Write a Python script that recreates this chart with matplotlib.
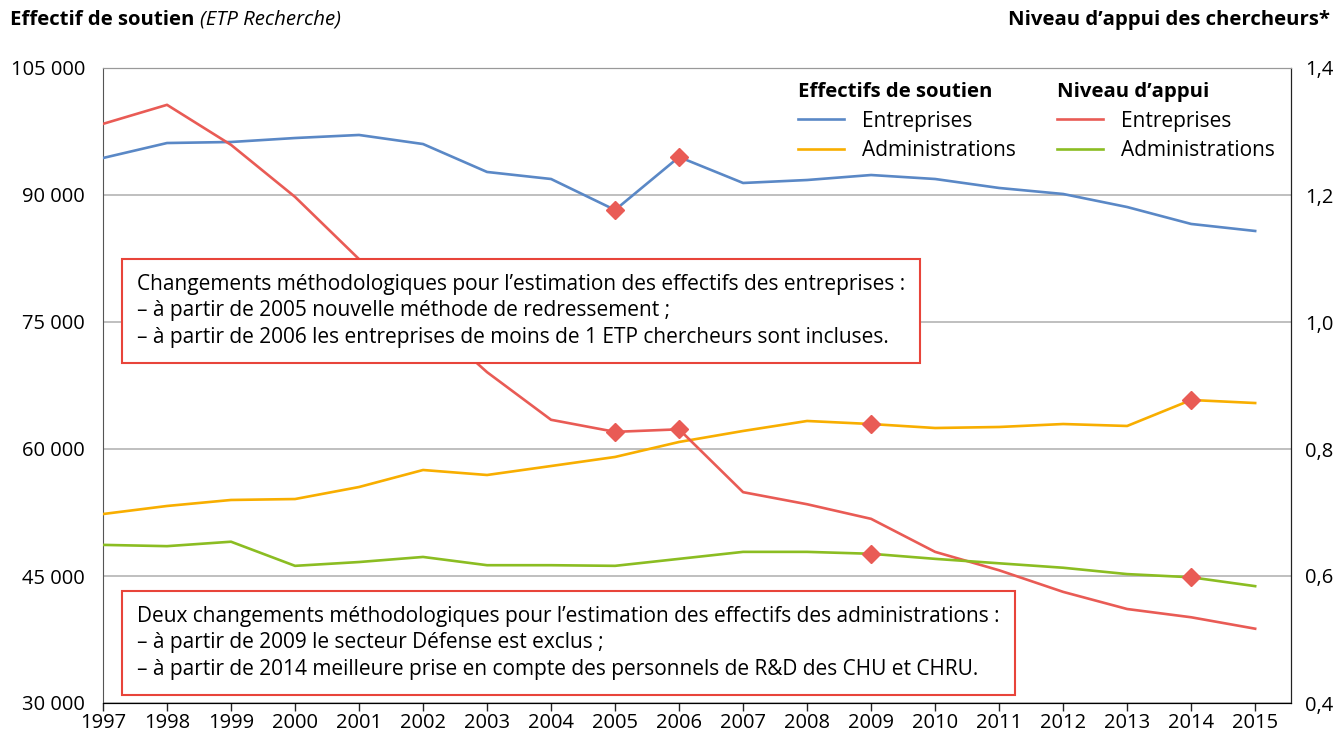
import matplotlib
matplotlib.use('Agg')
import matplotlib.pyplot as plt
from matplotlib.ticker import FuncFormatter
import numpy as np

plt.rcParams['font.family'] = ['Open Sans', 'DejaVu Sans']

years = list(range(1997, 2016))

# effectifs de soutien (axe gauche)
eff_entreprises = [94370, 96140, 96260, 96730, 97090, 96020, 92720, 91890, 88230, 94490,
                   91420, 91770, 92360, 91890, 90830, 90120, 88580, 86580, 85750]
eff_administrations = [52320, 53270, 53980, 54090, 55510, 57520, 56930, 57990, 59060, 60830,
                       62130, 63310, 62950, 62480, 62600, 62950, 62720, 65790, 65430]

# niveau d'appui (axe droit)
appui_entreprises = [1.312, 1.342, 1.279, 1.197, 1.099, 1.011, 0.921, 0.846, 0.827, 0.831,
                     0.732, 0.713, 0.690, 0.638, 0.609, 0.575, 0.548, 0.535, 0.517]
appui_administrations = [0.649, 0.647, 0.654, 0.616, 0.622, 0.630, 0.617, 0.617, 0.616, 0.627,
                         0.638, 0.638, 0.635, 0.627, 0.620, 0.613, 0.603, 0.598, 0.584]

# ruptures de série
ruptures_entreprises = [2005, 2006]
ruptures_administrations = [2009, 2014]

note_entreprises = ("Changements méthodologiques pour l\u2019estimation des effectifs des entreprises :\n"
                    "\u2013 à partir de 2005 nouvelle méthode de redressement ;\n"
                    "\u2013 à partir de 2006 les entreprises de moins de 1 ETP chercheurs sont incluses.")
note_administrations = ("Deux changements méthodologiques pour l\u2019estimation des effectifs des administrations :\n"
                        "\u2013 à partir de 2009 le secteur Défense est exclus ;\n"
                        "\u2013 à partir de 2014 meilleure prise en compte des personnels de R&D des CHU et CHRU.")

c_blue = '#5a88c6'
c_orange = '#f8ae00'
c_red = '#e95b55'
c_green = '#8bbd22'
c_box = '#e8443a'

W, H = 1339, 738
fig = plt.figure(figsize=(W / 100, H / 100), dpi=100)
ax = fig.add_axes([103 / W, 1 - 703 / H, (1291 - 103) / W, (703 - 68) / H])
ax2 = ax.twinx()

ax.set_xlim(1997, 2015.56)
ax.set_ylim(30000, 105000)
ax2.set_ylim(0.4, 1.4)

ax.set_yticks(np.arange(30000, 105001, 15000))
ax2.set_yticks(np.arange(0.4, 1.41, 0.2))
ax.set_xticks(years)
ax.yaxis.set_major_formatter(FuncFormatter(lambda v, p: f"{v:,.0f}".replace(',', ' ')))
ax2.yaxis.set_major_formatter(FuncFormatter(lambda v, p: f"{v:.1f}".replace('.', ',')))

fs = 14.5
ax.grid(axis='y', color='#b4b4b4', lw=1.2)
ax.set_axisbelow(True)
ax.tick_params(axis='y', length=0, labelsize=fs, pad=13)
ax2.tick_params(axis='y', length=0, labelsize=fs, pad=10)
ax.tick_params(axis='x', length=6, width=1, labelsize=fs, pad=1, color='#222222')
ax.spines['left'].set_color('#555555')
ax.spines['top'].set_color('#999999')
ax2.spines['top'].set_color('#999999')
ax2.spines['left'].set_visible(False)
ax.spines['bottom'].set_color('#222222')
ax2.spines['right'].set_color('#222222')

lw = 1.9
l1, = ax.plot(years, eff_entreprises, color=c_blue, lw=lw, zorder=3)
l2, = ax.plot(years, eff_administrations, color=c_orange, lw=lw, zorder=3)
l3, = ax2.plot(years, appui_entreprises, color=c_red, lw=lw, zorder=3)
l4, = ax2.plot(years, appui_administrations, color=c_green, lw=lw, zorder=3)

mk = dict(marker='D', ms=9.5, color=c_red, ls='none', zorder=5)
idx_e = [years.index(y) for y in ruptures_entreprises]
idx_a = [years.index(y) for y in ruptures_administrations]
ax.plot(ruptures_entreprises, [eff_entreprises[i] for i in idx_e], **mk)
ax2.plot(ruptures_entreprises, [appui_entreprises[i] for i in idx_e], **mk)
ax.plot(ruptures_administrations, [eff_administrations[i] for i in idx_a], **mk)
ax2.plot(ruptures_administrations, [appui_administrations[i] for i in idx_a], **mk)

# encadrés
box = dict(boxstyle='square,pad=0.72', fc='white', ec=c_box, lw=1.5)
fig.text(137 / W, 1 - 274 / H, note_entreprises, fontsize=15, va='top', ha='left',
         linespacing=1.33, bbox=box, zorder=10)
fig.text(137 / W, 1 - 606 / H, note_administrations, fontsize=15, va='top', ha='left',
         linespacing=1.33, bbox=box, zorder=10)

# légendes
leg_kw = dict(frameon=False, fontsize=15, handlelength=2.2, handletextpad=0.85,
              labelspacing=0.42, alignment='left', borderpad=0, borderaxespad=0,
              title_fontproperties={'weight': 'bold', 'size': 14.7})
leg1 = ax2.legend([l1, l2], ['Entreprises', 'Administrations'], title='Effectifs de soutien',
                  loc='upper left', bbox_to_anchor=(0.585, 0.978), **leg_kw)
ax2.add_artist(leg1)
ax2.legend([l3, l4], ['Entreprises', 'Administrations'], title='Niveau d\u2019appui',
           loc='upper left', bbox_to_anchor=(0.803, 0.978), **leg_kw)

# titres des axes
t = fig.text(10 / W, 1 - 20 / H, 'Effectif de soutien', fontsize=14.7, fontweight='bold',
             va='center', ha='left')
fig.canvas.draw()
bb = t.get_window_extent()
fig.text(bb.x1 / W + 0.004, 1 - 20 / H, '(ETP Recherche)', fontsize=14.7, style='italic',
         va='center', ha='left')
fig.text(1330 / W, 1 - 20 / H, 'Niveau d\u2019appui des chercheurs*', fontsize=14.7,
         fontweight='bold', va='center', ha='right')

fig.savefig('out.png', dpi=100)
